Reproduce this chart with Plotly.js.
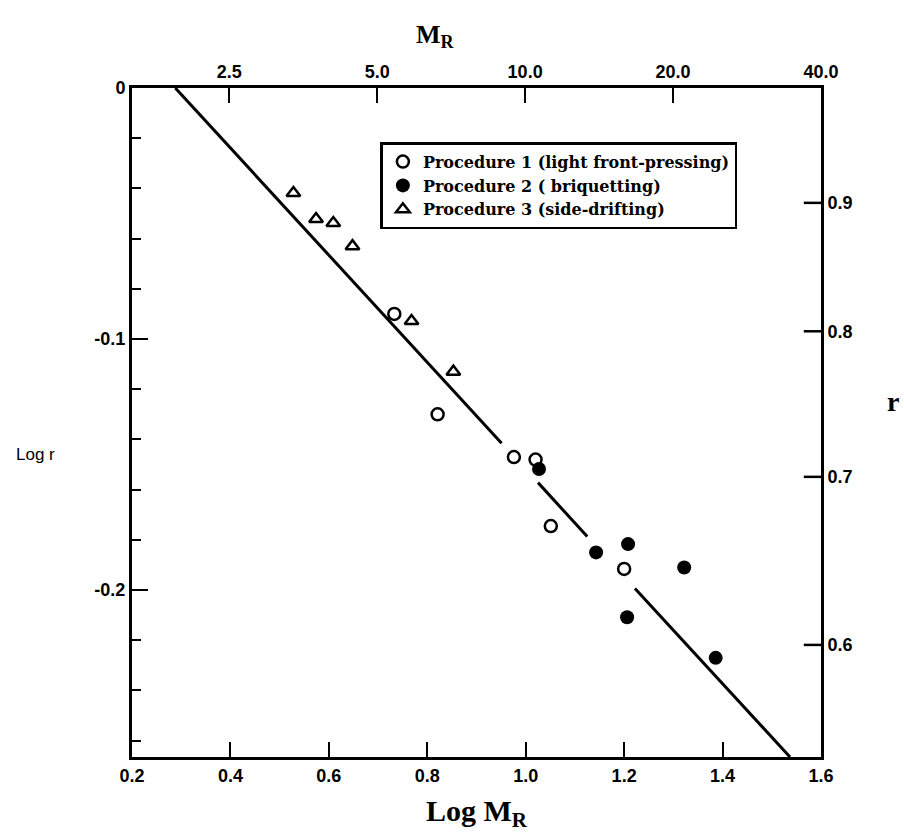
<!DOCTYPE html>
<html>
<head>
<meta charset="utf-8">
<script src="https://cdn.plot.ly/plotly-3.0.1.min.js"></script>
<style>html,body{margin:0;padding:0;background:#fff;}#chart{width:904px;height:838px;}</style>
</head>
<body>
<div id="chart"></div>
<script>
// Procedure 1 (open circles): Log M_R, Log r
const p1X = [0.733, 0.821, 0.976, 1.020, 1.051, 1.200];
const p1Y = [-0.090, -0.130, -0.147, -0.148, -0.1745, -0.1916];
// Procedure 2 (filled circles)
const p2X = [1.027, 1.143, 1.208, 1.322, 1.206, 1.386];
const p2Y = [-0.1518, -0.185, -0.1817, -0.191, -0.2108, -0.227];
// Procedure 3 (open triangles)
const p3X = [0.528, 0.574, 0.609, 0.648, 0.768, 0.853];
const p3Y = [-0.0418, -0.0522, -0.0538, -0.063, -0.0928, -0.113];
// Fitted line (drawn with gaps as in the original)
const fitX = [0.288, 0.951, null, 1.025, 1.125, null, 1.222, 1.537];
const fitY = [0, -0.1415, null, -0.1572, -0.1787, null, -0.1994, -0.2665];

const names = ['Procedure 1 (light front-pressing)', 'Procedure 2 ( briquetting)', 'Procedure 3 (side-drifting)'];
const bottomTicks = [0.2, 0.4, 0.6, 0.8, 1.0, 1.2, 1.4, 1.6];
const topTickM = [2.5, 5.0, 10.0, 20.0, 40.0];
const topTickText = ['2.5', '5.0', '10.0', '20.0', '40.0'];
const leftTicks = [0, -0.1, -0.2];
const leftTickText = ['0', '-0.1', '-0.2'];
const rightTickR = [0.9, 0.8, 0.7, 0.6];
const rightTickText = ['0.9', '0.8', '0.7', '0.6'];

const tickFont = {family: 'Liberation Sans, Arial, sans-serif', size: 18, color: '#000', weight: 'bold'};
const serifBold = {family: 'Liberation Serif, Times New Roman, serif', color: '#000', weight: 'bold'};

const traces = [
  {x: fitX, y: fitY, mode: 'lines', line: {color: '#000', width: 3}, showlegend: false, connectgaps: false, hoverinfo: 'skip'},
  {x: p1X, y: p1Y, mode: 'markers', name: names[0], marker: {symbol: 'circle-open', size: 12, color: '#000', line: {width: 2.5, color: '#000'}}},
  {x: p2X, y: p2Y, mode: 'markers', name: names[1], marker: {symbol: 'circle', size: 14, color: '#000'}},
  {x: p3X, y: p3Y, mode: 'markers', name: names[2], marker: {symbol: 'triangle-up-open', size: 12, color: '#000', line: {width: 2.5, color: '#000'}}},
  {x: [], y: [], xaxis: 'x2', yaxis: 'y2', showlegend: false, hoverinfo: 'skip'}
];

const layout = {
  width: 904, height: 838,
  margin: {l: 132, r: 83, t: 88, b: 81},
  paper_bgcolor: '#fff', plot_bgcolor: '#fff',
  showlegend: true,
  legend: {
    x: 0.3605, y: 0.919, xanchor: 'left', yanchor: 'top',
    bgcolor: '#fff', bordercolor: '#000', borderwidth: 2.5,
    font: {family: 'DejaVu Serif, serif', size: 16, color: '#000', weight: 'bold'},
    itemwidth: 30
  },
  xaxis: {
    range: [0.2, 1.6], tickvals: bottomTicks, tickformat: '.1f',
    ticks: 'inside', ticklen: 15, tickwidth: 2, tickcolor: '#000',
    showline: true, linecolor: '#000', linewidth: 3, mirror: false,
    showgrid: false, zeroline: false, tickfont: tickFont,
    title: {text: 'Log M<sub>R</sub>', font: Object.assign({}, serifBold, {size: 30}), standoff: 16}
  },
  xaxis2: {
    overlaying: 'x', side: 'top', range: [0.2, 1.6021],
    tickvals: topTickM.map(v => Math.log10(v)), ticktext: topTickText,
    ticks: 'inside', ticklen: 15, tickwidth: 2, tickcolor: '#000',
    showline: true, linecolor: '#000', linewidth: 3,
    showgrid: false, zeroline: false, tickfont: tickFont
  },
  yaxis: {
    range: [-0.2665, 0], tickvals: leftTicks, ticktext: leftTickText,
    ticks: 'inside', ticklen: 16, tickwidth: 2, tickcolor: '#000',
    minor: {dtick: 0.02, tick0: 0, ticks: 'inside', ticklen: 9, tickwidth: 2, tickcolor: '#000', showgrid: false},
    showline: true, linecolor: '#000', linewidth: 3,
    showgrid: false, zeroline: false, tickfont: tickFont
  },
  yaxis2: {
    overlaying: 'y', side: 'right', range: [-0.2665, 0],
    tickvals: rightTickR.map(v => Math.log10(v)), ticktext: rightTickText,
    ticks: 'outside', ticklen: 0, tickcolor: '#000',
    showline: true, linecolor: '#000', linewidth: 3,
    showgrid: false, zeroline: false, tickfont: tickFont
  },
  shapes: rightTickR.map(v => ({
    type: 'line', xref: 'paper', yref: 'y', x0: 0.975, x1: 1, y0: Math.log10(v), y1: Math.log10(v),
    line: {color: '#000', width: 2.5}
  })),
  annotations: [
    {text: 'M<sub>R</sub>', xref: 'paper', yref: 'paper', x: 0.44, y: 1.0, yshift: 52, xanchor: 'center', yanchor: 'middle',
     showarrow: false, font: Object.assign({}, serifBold, {size: 26})},
    {text: 'Log r', xref: 'paper', yref: 'y', x: 0, xshift: -97, y: -0.146, xanchor: 'center', yanchor: 'middle',
     showarrow: false, font: {family: 'Liberation Sans, Arial, sans-serif', size: 17, color: '#000'}},
    {text: 'r', xref: 'paper', yref: 'y', x: 1, xshift: 72, y: -0.125, xanchor: 'center', yanchor: 'middle',
     showarrow: false, font: Object.assign({}, serifBold, {size: 28})}
  ]
};

Plotly.newPlot('chart', traces, layout, {displayModeBar: false, staticPlot: true});
</script>
</body>
</html>
